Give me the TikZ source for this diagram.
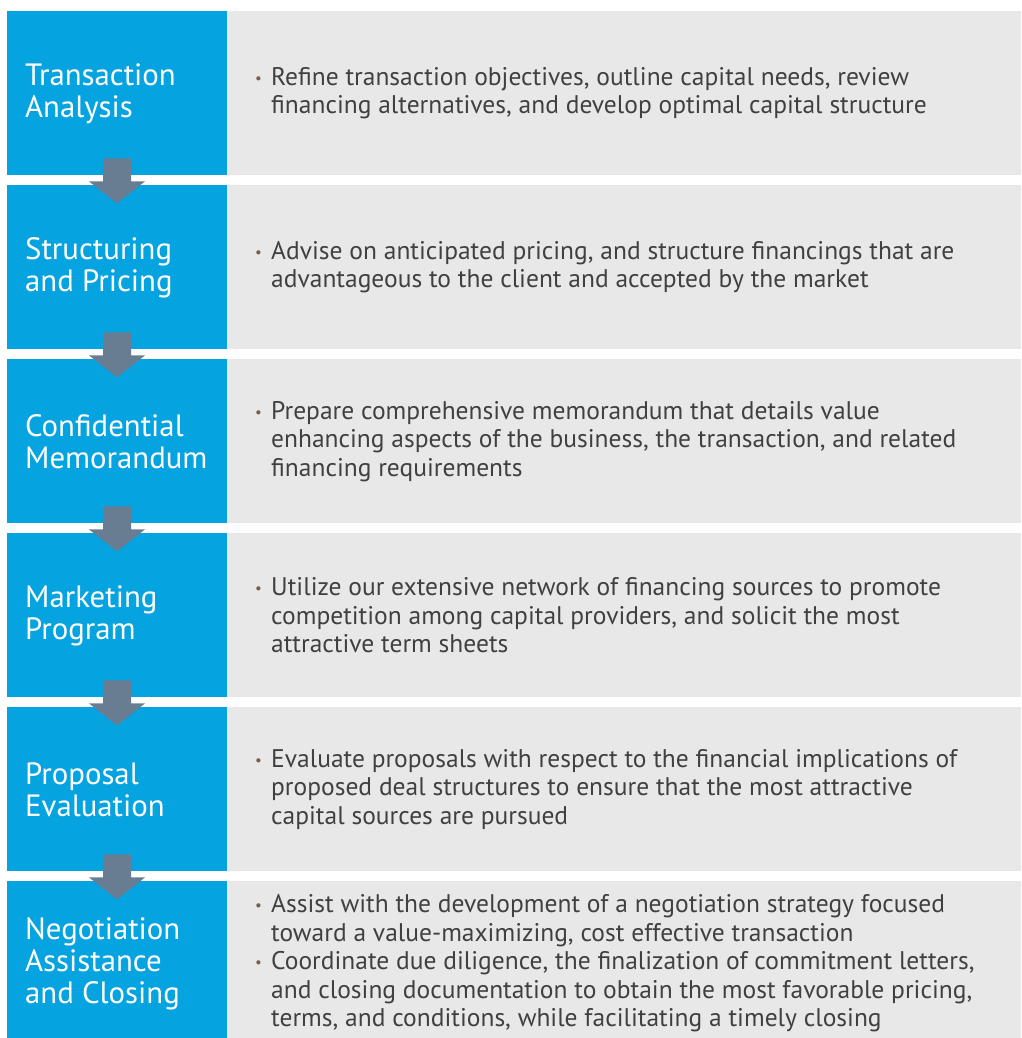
\documentclass[tikz,border=0pt]{standalone}
\usepackage{fontspec}
\setmainfont{PT Sans}
\usetikzlibrary{calc}
\definecolor{bluebox}{HTML}{05A3E0}
\definecolor{graybox}{HTML}{E8E8E8}
\definecolor{arrowc}{HTML}{687C92}
\definecolor{txt}{HTML}{404040}
\definecolor{bul}{HTML}{7A5C4A}
\newcommand{\bitem}[1]{\makebox[16pt][l]{\color{bul}\fontsize{15}{15}\selectfont\raisebox{2pt}{•}}\parbox[t]{730pt}{\raggedright #1}}
\tikzset{
  stagebox/.style={fill=bluebox, draw=none, anchor=north west, minimum width=220pt, minimum height=164pt, inner sep=0pt},
  descbox/.style={fill=graybox, draw=none, anchor=north west, minimum width=794pt, minimum height=164pt, inner sep=0pt},
  stagetext/.style={anchor=west, text=white, align=left, inner sep=0pt, font=\fontsize{30.8}{32}\selectfont},
  desctext/.style={anchor=west, text=txt, align=left, inner sep=0pt, font=\fontsize{25.5}{28.5}\selectfont},
  blockarrow/.style={fill=arrowc, draw=none}
}
\newcommand{\downarrowblock}[1]{%
  \fill[blockarrow] ($(#1.south west)+(96,-17)$) -- ++(28,0) -- ++(0,23) -- ++(14,0)
     -- ($(#1.south west)+(110,28)$) -- ($(#1.south west)+(82,6)$) -- ++(14,0) -- cycle;}
\begin{document}
\begin{tikzpicture}[x=1pt,y=-1pt]
\useasboundingbox (0,0) rectangle (1021,1038);
\clip (0,0) rectangle (1021,1038);
\foreach \i/\t in {1/11,2/185,3/359,4/533,5/707,6/881}{
  \node[stagebox] (s\i) at (7,\t) {};
  \node[descbox] (d\i) at (227,\t) {};
}
\node[stagetext] (t1) at ($(s1.west)+(18,1)$) {Transaction\\Analysis};
\node[stagetext] (t2) at ($(s2.west)+(18,1)$) {Structuring\\and Pricing};
\node[stagetext] (t3) at ($(s3.west)+(18,1)$) {Confidential\\Memorandum};
\node[stagetext] (t4) at ($(s4.west)+(18,1)$) {Marketing\\Program};
\node[stagetext] (t5) at ($(s5.west)+(18,1)$) {Proposal\\Evaluation};
\node[stagetext] (t6) at ($(s6.west)+(18,1)$) {Negotiation\\Assistance\\and Closing};
\node[desctext] (e1) at ($(d1.west)+(28,0)$) {\bitem{Refine transaction objectives, outline capital needs, review\\financing alternatives, and develop optimal capital structure}};
\node[desctext] (e2) at ($(d2.west)+(28,0)$) {\bitem{Advise on anticipated pricing, and structure financings that are\\advantageous to the client and accepted by the market}};
\node[desctext] (e3) at ($(d3.west)+(28,0)$) {\bitem{Prepare comprehensive memorandum that details value\\enhancing aspects of the business, the transaction, and related\\financing requirements}};
\node[desctext] (e4) at ($(d4.west)+(28,0)$) {\bitem{Utilize our extensive network of financing sources to promote\\competition among capital providers, and solicit the most\\attractive term sheets}};
\node[desctext] (e5) at ($(d5.west)+(28,0)$) {\bitem{Evaluate proposals with respect to the financial implications of\\proposed deal structures to ensure that the most attractive\\capital sources are pursued}};
\node[desctext] (e6) at ($(d6.west)+(28,0)$) {\bitem{Assist with the development of a negotiation strategy focused\\toward a value-maximizing, cost effective transaction}\\[4pt]
\bitem{Coordinate due diligence, the finalization of commitment letters,\\and closing documentation to obtain the most favorable pricing,\\terms, and conditions, while facilitating a timely closing}};
\downarrowblock{s1}
\downarrowblock{s2}
\downarrowblock{s3}
\downarrowblock{s4}
\downarrowblock{s5}
\end{tikzpicture}
\end{document}
